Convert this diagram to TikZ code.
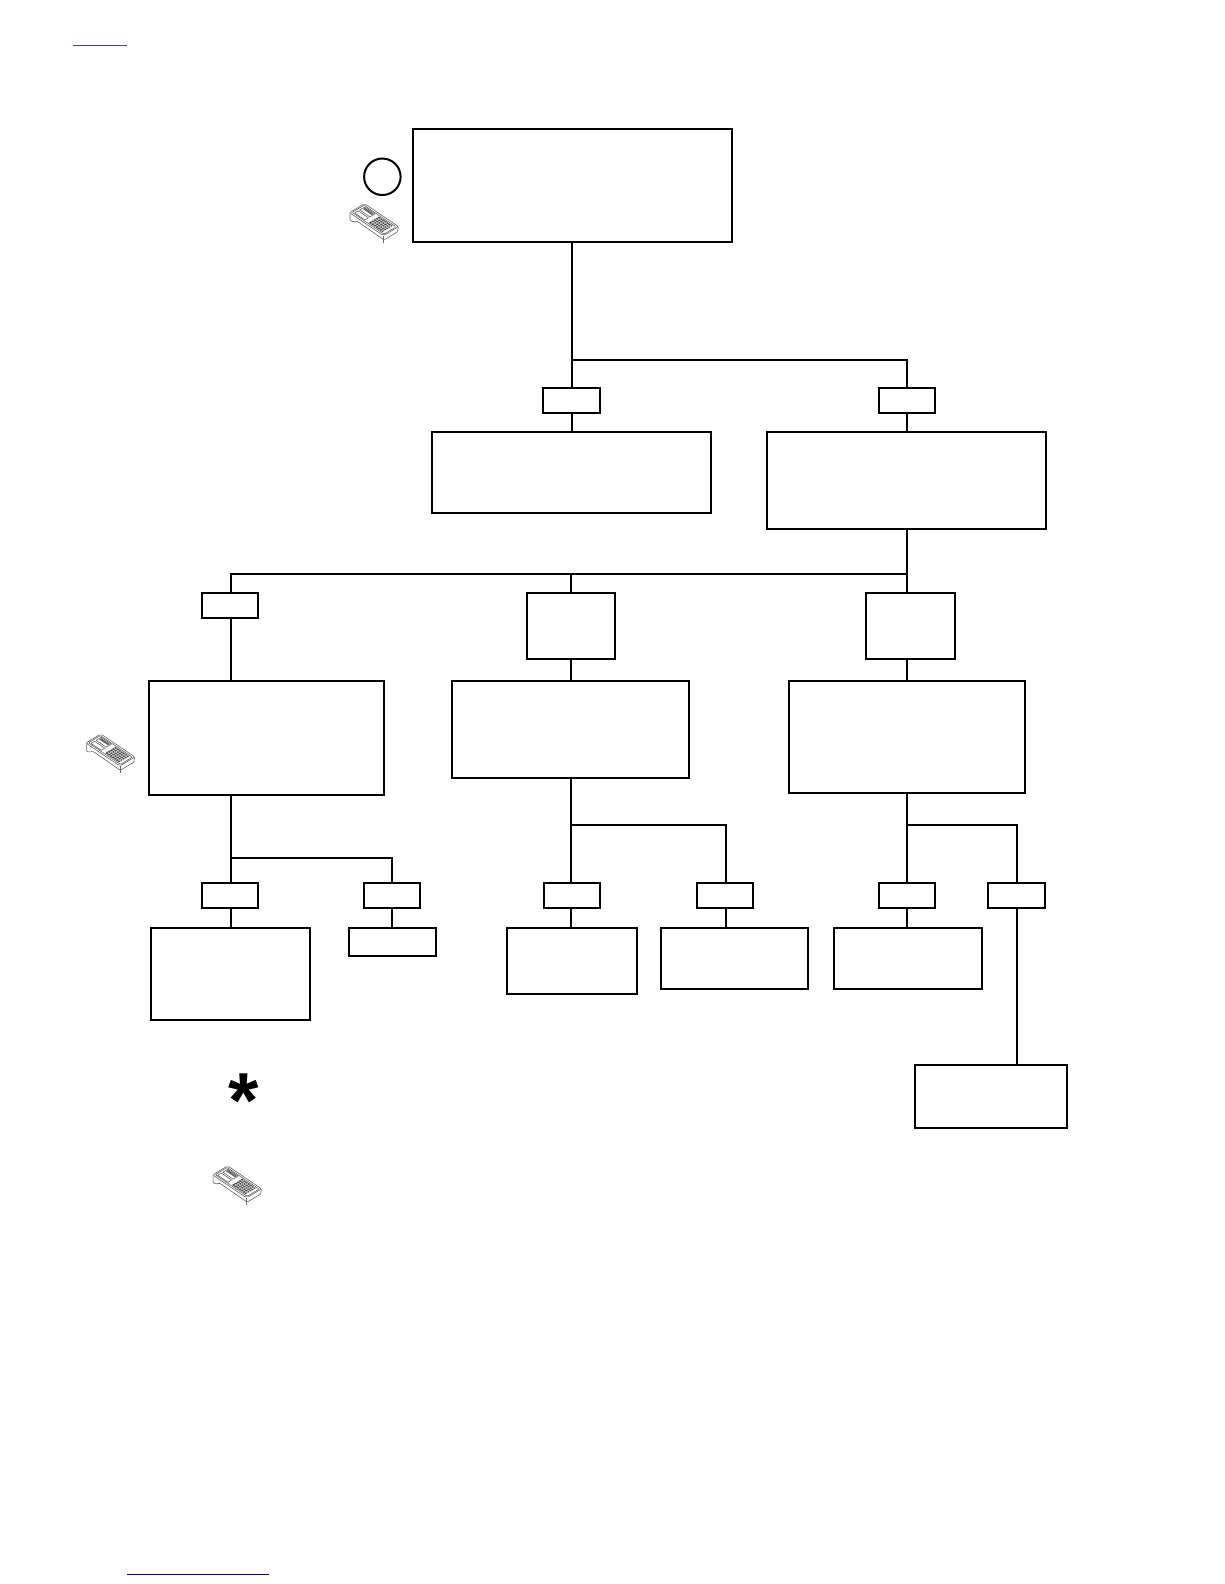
\documentclass[tikz,border=0pt]{standalone}
\usepackage{fontspec}
\newfontfamily\starfont{Liberation Sans}
\tikzset{
  boxnode/.style={draw=black,line width=2pt,fill=white,inner sep=0pt,outer sep=0pt},
  wire/.style={draw=black,line width=2pt},
  devline/.style={draw=black!60,line width=0.6pt,line join=round},
}
% \bx{name}{x1}{y1}{x2}{y2}
\newcommand{\bx}[5]{%
  \pgfmathsetmacro{\bw}{(#4-#2)*1.0099}%
  \pgfmathsetmacro{\bh}{(#5-#3)*1.0099}%
  \node[boxnode,minimum width=\bw pt,minimum height=\bh pt] (#1) at ({(#2+#4)/2},{(#3+#5)/2}) {};%
}
% handheld device drawing, positioned by its centre
\newcommand{\device}[2]{%
  \begin{scope}[shift={(#1,#2)}]
  \begin{scope}[shift={(-24.5,-10)},x={(34pt,-23pt)},y={(15pt,9pt)}]
    \draw[devline,rounded corners=2pt] (0,0) -- (0,1) -- (1,1) -- (1,0) -- cycle;
    \draw[devline,rounded corners=1pt] (0.03,0.1) -- (0.03,0.9) -- (0.97,0.9) -- (0.97,0.1) -- cycle;
    % lower side of the case, closed from the left corner round to the right corner
    \draw[devline,rounded corners=1pt] (0,0.03) -- ++(0pt,-8pt) -- ++(3pt,-1.5pt) -- ++(3pt,1pt) -- ++(2pt,-1pt) -- ++(26pt,-18pt) -- ++(13.5pt,8pt) -- ++(0.8pt,5pt);
    \draw[devline] (1,0) -- ++(0pt,-7pt);
    % screen and upper controls
    \draw[devline] (0.08,0.5) -- (0.08,0.84) -- (0.38,0.84) -- (0.38,0.5) -- cycle;
    \fill[black!60] (0.1,0.66) -- (0.1,0.8) -- (0.36,0.8) -- (0.36,0.66) -- cycle;
    \draw[devline] (0.08,0.16) -- (0.08,0.4) -- (0.38,0.4) -- (0.38,0.16) -- cycle;
    % keypad
    \fill[black!72] (0.5,0.16) -- (0.5,0.84) -- (0.9,0.84) -- (0.9,0.16) -- cycle;
    \foreach \u in {0.56,0.62,...,0.88} \draw[white,line width=0.35pt] (\u,0.16) -- (\u,0.84);
    \foreach \v in {0.3,0.44,0.58,0.72} \draw[white,line width=0.35pt] (0.5,\v) -- (0.9,\v);
  \end{scope}
  \end{scope}
}
\begin{document}
\begin{tikzpicture}[x=1.0099pt,y=-1.0099pt]
\useasboundingbox (0,0) rectangle (1212,1568);
\fill[white] (0,0) rectangle (1212,1568);

% boxes
\bx{top}{409}{128}{724.5}{239.5}
\bx{labA}{538}{384}{593.5}{409}
\bx{labB}{870}{384}{926}{409}
\bx{boxA}{428}{428}{704}{508}
\bx{boxB}{759}{428}{1035.5}{523.5}
\bx{labC}{200}{587}{255.5}{611.5}
\bx{labD}{522}{587}{609}{652.5}
\bx{labE}{857.5}{587}{945}{652.5}
\bx{boxC}{147.5}{674}{380}{787}
\bx{boxD}{447}{674}{682}{770}
\bx{boxE}{781}{674}{1015}{785}
\bx{labF}{200}{874}{255.5}{899}
\bx{labG}{360.5}{874}{416}{899}
\bx{labH}{538.5}{874}{594}{899}
\bx{labI}{690}{874}{745}{899}
\bx{labJ}{870}{874}{926}{899}
\bx{labK}{978}{874}{1034}{899}
\bx{boxF}{149}{919}{307}{1009.5}
\bx{boxG}{345.5}{919}{432}{946}
\bx{boxH}{502}{919}{631}{984}
\bx{boxI}{654}{919}{800}{979}
\bx{boxJ}{826}{919}{972}{979}
\bx{boxK}{906}{1054}{1056.5}{1116.5}

% junctions
\coordinate (j1) at (566.5,356);
\coordinate (j1r) at (898,356);
\coordinate (j2) at (898,568);
\coordinate (j2l) at (228.5,568);
\coordinate (j2m) at (565,568);
\coordinate (j3) at (228.5,849);
\coordinate (j3r) at (388.5,849);
\coordinate (j4) at (565,817);
\coordinate (j4r) at (718.5,817);
\coordinate (j5) at (898,817);
\coordinate (j5r) at (1006.5,817);

% connectors
\draw[wire] (top.south -| j1) -- (labA.north -| j1);
\draw[wire] (j1) -- (j1r) -- (labB.north -| j1r);
\draw[wire] (labA.south -| j1) -- (boxA.north -| j1);
\draw[wire] (labB.south -| j1r) -- (boxB.north -| j1r);
\draw[wire] (boxB.south -| j2) -- (labE.north -| j2);
\draw[wire] (j2) -- (j2l) -- (labC.north -| j2l);
\draw[wire] (j2m) -- (labD.north -| j2m);
\draw[wire] (labC.south -| j2l) -- (boxC.north -| j2l);
\draw[wire] (labD.south -| j2m) -- (boxD.north -| j2m);
\draw[wire] (labE.south -| j2) -- (boxE.north -| j2);
\draw[wire] (boxC.south -| j3) -- (labF.north -| j3);
\draw[wire] (j3) -- (j3r) -- (labG.north -| j3r);
\draw[wire] (labF.south -| j3) -- (boxF.north -| j3);
\draw[wire] (labG.south -| j3r) -- (boxG.north -| j3r);
\draw[wire] (boxD.south -| j4) -- (labH.north -| j4);
\draw[wire] (j4) -- (j4r) -- (labI.north -| j4r);
\draw[wire] (labH.south -| j4) -- (boxH.north -| j4);
\draw[wire] (labI.south -| j4r) -- (boxI.north -| j4r);
\draw[wire] (boxE.south -| j5) -- (labJ.north -| j5);
\draw[wire] (j5) -- (j5r) -- (labK.north -| j5r);
\draw[wire] (labJ.south -| j5) -- (boxJ.north -| j5);
\draw[wire] (labK.south -| j5r) -- (boxK.north -| j5r);

% circle
\node[draw=black,line width=2pt,circle,minimum size=36.5pt,inner sep=0pt] (mark) at (378.5,175) {};

% asterisk
\node[inner sep=0pt,font=\starfont\bfseries\fontsize{78}{78}\selectfont] (star) at (241,1090) {*};

% device icons
\device{370.5}{220.5}
\device{109.5}{745.5}
\device{235}{1173}

% hyperlink rules
\coordinate (l1a) at (72,45); \coordinate (l1b) at (126,45);
\coordinate (l2a) at (126,1559); \coordinate (l2b) at (266,1559);
\draw[color=black!50!blue!75,line width=1pt] (l1a) -- (l1b);
\draw[color=blue!65!black,line width=1pt] (l2a) -- (l2b);
\end{tikzpicture}
\end{document}
